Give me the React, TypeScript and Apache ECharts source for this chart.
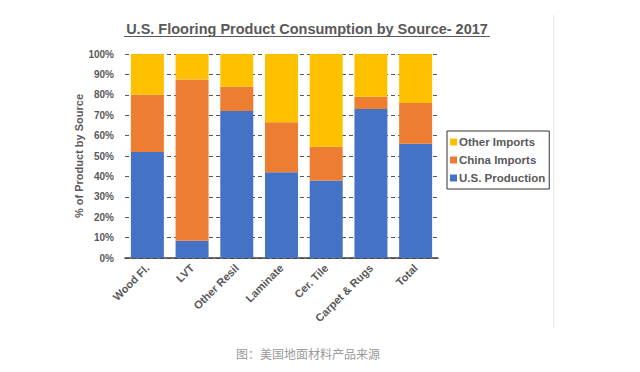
import React, { useEffect, useRef } from "react";
import * as echarts from "echarts";

const categories = ["Wood Fl.", "LVT", "Other Resil", "Laminate", "Cer. Tile", "Carpet & Rugs", "Total"];
const usProduction = [52, 8.5, 72, 42, 38, 73, 56];
const chinaImports = [28, 79, 12, 24.5, 16.5, 6, 20];
const otherImports = [20, 12.5, 16, 33.5, 45.5, 21, 24];
const titleText = "U.S. Flooring Product Consumption by Source- 2017";
const captionText = "图：美国地面材料产品来源";
const yAxisName = "% of Product by Source";

const FONT = "'Liberation Sans', Arial, sans-serif";
const GRAY = "#595959";

export default function App() {
  const ref = useRef<HTMLDivElement>(null);
  useEffect(() => {
    if (!ref.current) return;
    const chart = echarts.init(ref.current, null, { renderer: "svg" });
    chart.setOption({
      animation: false,
      backgroundColor: "#fff",
      textStyle: { fontFamily: FONT },
      grid: { left: 125, right: 202, top: 54, bottom: 114 },
      legend: {
        orient: "vertical",
        left: 447,
        top: 131,
        width: 106,
        data: ["Other Imports", "China Imports", "U.S. Production"],
        itemWidth: 7,
        itemHeight: 7,
        itemGap: 6,
        icon: "rect",
        borderColor: "#333",
        borderWidth: 1,
        padding: [5, 4, 5, 3],
        textStyle: { fontFamily: FONT, fontSize: 11.5, fontWeight: "bold", color: GRAY, padding: [0, 0, 0, -3] },
      },
      xAxis: {
        type: "category",
        data: categories,
        axisTick: { show: false },
        axisLine: { lineStyle: { color: "#404040", width: 1.5 } },
        axisLabel: {
          rotate: 45,
          interval: 0,
          margin: 8,
          fontFamily: FONT,
          fontSize: 11,
          fontWeight: "bold",
          color: GRAY,
        },
      },
      yAxis: {
        type: "value",
        min: 0,
        max: 100,
        interval: 10,
        name: yAxisName,
        nameLocation: "middle",
        nameGap: 40,
        nameTextStyle: { fontFamily: FONT, fontSize: 11, fontWeight: "bold", color: GRAY },
        axisLine: { show: false },
        axisTick: { show: false },
        axisLabel: {
          formatter: "{value}%",
          margin: 11,
          fontFamily: FONT,
          fontSize: 10,
          fontWeight: "bold",
          color: GRAY,
        },
        splitLine: { lineStyle: { color: "#595959", type: [4, 3], width: 1 } },
      },
      series: [
        { name: "U.S. Production", type: "bar", stack: "s", data: usProduction, barWidth: 33, itemStyle: { color: "#4472C4" } },
        { name: "China Imports", type: "bar", stack: "s", data: chinaImports, barWidth: 33, itemStyle: { color: "#ED7D31" } },
        { name: "Other Imports", type: "bar", stack: "s", data: otherImports, barWidth: 33, itemStyle: { color: "#FFC000" } },
      ],
      graphic: [
        {
          type: "text",
          x: 307,
          y: 29,
          style: {
            text: titleText,
            fontFamily: FONT,
            fontSize: 14.5,
            fontWeight: "bold",
            fill: GRAY,
            align: "center",
            verticalAlign: "middle",
          },
        },
        {
          type: "line",
          shape: { x1: 124, y1: 36.5, x2: 490, y2: 36.5 },
          style: { stroke: GRAY, lineWidth: 1 },
        },
        {
          type: "line",
          shape: { x1: 553.5, y1: 15, x2: 553.5, y2: 328 },
          style: { stroke: "#e8e8e8", lineWidth: 1 },
        },
        {
          type: "text",
          x: 308,
          y: 353,
          style: {
            text: captionText,
            fontFamily: "'Noto Sans CJK SC', sans-serif",
            fontSize: 12,
            fill: "#9a9a9a",
            align: "center",
            verticalAlign: "middle",
          },
        },
      ],
    });
    return () => chart.dispose();
  }, []);
  return <div ref={ref} style={{ width: 640, height: 372, position: "absolute", left: 0, top: 0 }} />;
}
